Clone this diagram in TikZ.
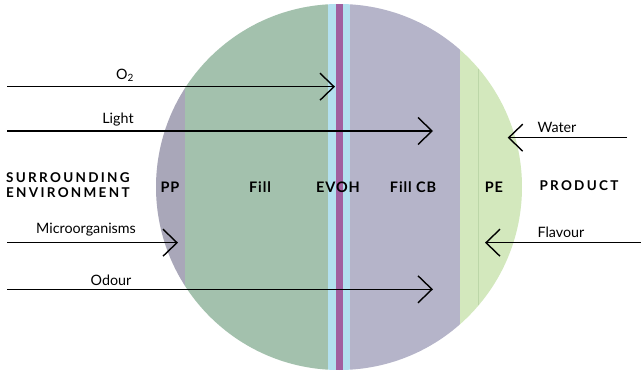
\documentclass[tikz,border=0pt]{standalone}
\usepackage{fontspec}
\setmainfont{Lato}
\usetikzlibrary{arrows.meta}
\definecolor{ppc}{HTML}{A9A7B9}
\definecolor{fillc}{HTML}{A3C1AD}
\definecolor{blc}{HTML}{B3E0EF}
\definecolor{puc}{HTML}{A1609F}
\definecolor{cbc}{HTML}{B5B4C9}
\definecolor{pec}{HTML}{D3E8BD}
\definecolor{pel}{HTML}{BCD6A8}
\tikzset{
  flow/.style={line width=1.4pt,-{Straight Barb[length=14pt,width=27pt,line width=1.4pt]}},
  lbl/.style={font=\fontsize{14.3}{16}\selectfont,inner sep=0pt},
  lay/.style={font=\bfseries\fontsize{14.5}{16}\selectfont\addfontfeature{LetterSpace=6},inner sep=0pt},
  captext/.style={font=\bfseries\fontsize{13.5}{15}\selectfont\addfontfeature{LetterSpace=17},inner sep=0pt,align=left}
}
\begin{document}
\begin{tikzpicture}[x=1pt,y=-1pt]
\useasboundingbox (0,0) rectangle (641,377);
\begin{scope}
\clip (339,187) circle (183);
\fill[ppc] (150,0) rectangle (185,377);
\fill[fillc] (185,0) rectangle (328,377);
\fill[blc] (328,0) rectangle (336,377);
\fill[puc] (335.7,0) rectangle (343.3,377);
\fill[blc] (343.3,0) rectangle (350,377);
\fill[cbc] (350,0) rectangle (460,377);
\fill[pec] (460,0) rectangle (530,377);
\draw[pel,line width=0.8pt] (478.3,0) -- (478.3,377);
\end{scope}
% endpoints
\coordinate (o2s) at (7,86.7); \coordinate (o2e) at (335,86.7);
\coordinate (lis) at (7,131); \coordinate (lie) at (433,131);
\coordinate (mis) at (7,242.7); \coordinate (mie) at (178,242.7);
\coordinate (ods) at (7,289.3); \coordinate (ode) at (433,289.3);
\coordinate (was) at (627,137.7); \coordinate (wae) at (507.7,137.7);
\coordinate (fls) at (641,242.7); \coordinate (fle) at (485,242.7);
\draw[flow] (o2s) -- (o2e);
\draw[flow] (lis) -- (lie);
\draw[flow] (mis) -- (mie);
\draw[flow] (ods) -- (ode);
\draw[flow] (was) -- (wae);
\draw[flow] (fls) -- (fle);
% labels
\node[lbl] (lo2) at (125,75) {O\textsubscript{2}};
\node[lbl] (lli) at (118,120) {Light};
\node[lbl] (lmi) at (86,230) {Microorganisms};
\node[lbl] (lod) at (111,280) {Odour};
\node[lbl] (lwa) at (557,127) {Water};
\node[lbl] (lfl) at (561,232) {Flavour};
\node[captext,anchor=west] (env) at (6,185.5) {SURROUNDING\\ENVIRONMENT};
\node[captext] (prod) at (579,186) {PRODUCT};
\node[lay] (pp) at (170,187) {PP};
\node[lay] (fi) at (260,187) {Fill};
\node[lay] (ev) at (338,187) {EVOH};
\node[lay] (fcb) at (413,187) {Fill CB};
\node[lay] (pe) at (494,187) {PE};
\end{tikzpicture}
\end{document}
